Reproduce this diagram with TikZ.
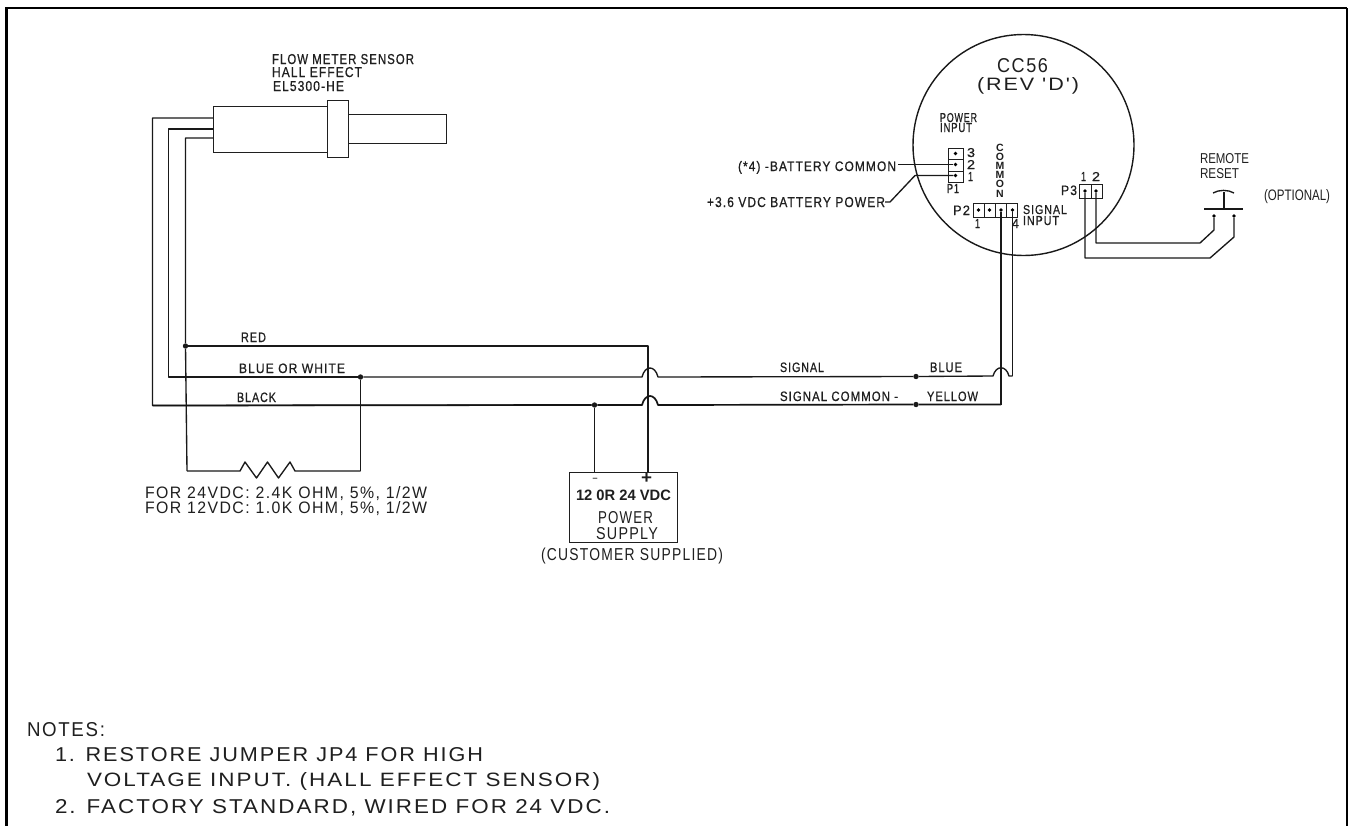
\documentclass[tikz,border=0pt]{standalone}
\usepackage{fontspec}
\usepackage{graphicx}
\setmainfont{Liberation Sans}
\newfontfamily\cadfont[LetterSpace=9]{Liberation Sans}
\newfontfamily\cadbfont[LetterSpace=9,FakeBold=0.7]{Liberation Sans}
\newcommand{\cad}[3]{\resizebox{#1pt}{#2pt}{\cadfont #3}}
\newcommand{\cadb}[3]{\resizebox{#1pt}{#2pt}{\cadbfont #3}}
\newcommand{\hel}[3]{\resizebox{#1pt}{#2pt}{#3}}
\tikzset{
  wire/.style={line width=1.35pt,draw=black!90,line join=round},
  heavy/.style={line width=1.7pt,draw=black!92,line join=round},
  outline/.style={line width=1.3pt,draw=black!88},
  txt/.style={anchor=base west,inner sep=0pt,outer sep=0pt,text=black!88},
  jdot/.style={circle,fill=black!90,inner sep=0pt,minimum size=5.4pt},
  pin/.style={circle,fill=black,inner sep=0pt,minimum size=3.8pt}
}
\begin{document}
\begin{tikzpicture}[x=1pt,y=-1pt]
\useasboundingbox (0,0) rectangle (1348,825);
\clip (0,0) rectangle (1348,825);
\fill[white] (0,0) rectangle (1348,825);
% frame
\draw[black,line width=2.6pt] (6.2,830) -- (6.2,8) -- (1346.5,8);
\draw[black,line width=1.4pt] (1347,8) -- (1347,830);

% flow meter sensor
\node[outline,draw,inner sep=0,minimum width=114pt,minimum height=46pt,anchor=north west] (body) at (213,106) {};
\node[outline,draw,inner sep=0,minimum width=98pt,minimum height=29pt,anchor=north west] (shaft) at (348,114) {};
\node[outline,draw,fill=white,inner sep=0,minimum width=21pt,minimum height=57pt,anchor=north west] (collar) at (327,100) {};
\node[txt] (t1) at (272,64) {\cadb{142}{10}{FLOW METER SENSOR}};
\node[txt] (t2) at (272,77) {\cadb{90}{10}{HALL EFFECT}};
\node[txt] (t3) at (273,91) {\cadb{71}{10}{EL5300-HE}};

% junction and corner coordinates
\coordinate (so) at (213,118);
\coordinate (sm) at (213,129);
\coordinate (si) at (213,138);
\coordinate (co) at (152.5,118);
\coordinate (cm) at (168.5,129);
\coordinate (ci) at (185.5,138);
\coordinate (bo) at (152.5,405.5);
\coordinate (bm) at (168.5,377);
\coordinate (rl) at (187,471);
\coordinate (rr) at (360.5,471);
\node[jdot] (jred) at (185.5,346) {};
\node[jdot] (jblue) at (360.5,377) {};
\node[jdot] (jneg) at (594.5,405) {};
\node[jdot] (jsig) at (916,376.5) {};
\node[jdot] (jcom) at (916,404.5) {};
\coordinate (redc) at (648,346);

% supply box
\node[outline,draw,inner sep=0,minimum width=108pt,minimum height=70pt,anchor=north west] (psu) at (569,472) {};
\coordinate (psuneg) at (594.5,472);
\coordinate (psupos) at (648,472);
\node[txt] (minus) at (592,480) {\bfseries\hel{6}{2.2}{-}};
\node[txt] (plus) at (641,483) {\bfseries\hel{11}{10}{+}};
\node[txt] (p12) at (576,500) {\bfseries\hel{95}{10.5}{12 0R 24 VDC}};
\node[txt] (p13) at (598,523) {\cad{55}{12}{POWER}};
\node[txt] (p14) at (596,539) {\cad{62}{12}{SUPPLY}};
\node[txt] (p15) at (541,560) {\cad{182}{12.5}{(CUSTOMER SUPPLIED)}};

% wires from sensor
\draw[wire] (so) -- (co) -- (bo) -- (jneg);
\draw[wire] (sm) -- (cm) -- (bm) -- (jblue);
\draw[wire] (si) -- (ci) -- (jred) -- (rl);
\draw[heavy] (bo) -- (jneg);
\draw[wire] (jred) -- (redc) -- (psupos);
\draw[wire] (jblue) -- (rr);
\draw[wire] (jneg) -- (psuneg);

% resistor
\draw[wire] (rl) -- (240,471) -- (245,462) -- (256.5,478) -- (267.5,462) -- (278.5,478) -- (290,462) -- (295,471) -- (rr);

% signal lines with hops
\coordinate (hb1) at (642,377);
\coordinate (hb2) at (658,377);
\coordinate (hc1) at (642,405);
\coordinate (hc2) at (658,405);
\coordinate (hs1) at (993,376);
\coordinate (hs2) at (1009,376);
\coordinate (sigend) at (1012.5,376);
\coordinate (comend) at (1001,404.5);
\draw[wire] (jblue) -- (hb1) .. controls (645,365) and (655,365) .. (hb2) -- (jsig) -- (hs1) .. controls (996,365) and (1006,365) .. (hs2) -- (sigend);
\draw[heavy] (jneg) -- (hc1) .. controls (645,393) and (655,393) .. (hc2) -- (jcom) -- (comend);

% labels on the lines
\node[txt] (l1) at (241,342) {\cadb{25}{9.5}{RED}};
\node[txt] (l2) at (239,373) {\cadb{106}{9.5}{BLUE OR WHITE}};
\node[txt] (l3) at (237,402) {\cadb{39}{9.5}{BLACK}};
\node[txt] (l4) at (145,498) {\cad{282}{12}{FOR 24VDC: 2.4K OHM, 5\%, 1/2W}};
\node[txt] (l5) at (145,513) {\cad{282}{12}{FOR 12VDC: 1.0K OHM, 5\%, 1/2W}};
\node[txt] (l6) at (780,372) {\cadb{44}{9.5}{SIGNAL}};
\node[txt] (l7) at (780,401) {\cadb{118}{9.5}{SIGNAL COMMON -}};
\node[txt] (l8) at (930,372) {\cadb{32}{9.5}{BLUE}};
\node[txt] (l9) at (927,401) {\cadb{51}{9.5}{YELLOW}};

% CC56 circle
\node[draw=black!90,line width=1.4pt,circle,inner sep=0,minimum size=221pt] (cc) at (1023.5,145) {};
\node[txt] (c1) at (997,72) {\cad{51}{14}{CC56}};
\node[txt] (c2) at (977,90) {\cad{102}{13}{(REV 'D')}};
\node[txt] (c3) at (940,122) {\cadb{37}{9}{POWER}};
\node[txt] (c4) at (940,132) {\cadb{32}{9}{INPUT}};

% P1
\node[outline,draw,inner sep=0,minimum width=15pt,minimum height=11pt,anchor=north west] (p1c) at (948,148) {};
\node[outline,draw,inner sep=0,minimum width=15pt,minimum height=11.5pt,anchor=north west] (p1b) at (948,159) {};
\node[outline,draw,inner sep=0,minimum width=15pt,minimum height=11pt,anchor=north west] (p1a) at (948,170.5) {};
\node[pin] (p1p3) at (955.5,153.5) {};
\node[pin] (p1p2) at (955.5,164.5) {};
\node[pin] (p1p1) at (955.5,175.5) {};
\node[txt] (n3) at (967,157) {\cadb{8}{9}{3}};
\node[txt] (n2) at (967,169) {\cadb{8}{9}{2}};
\node[txt] (n1) at (968,181) {\cadb{5}{9}{1}};
\node[txt] (pl1) at (947,193) {\cadb{12}{9}{P1}};
\node[txt] (b1) at (738,171) {\cadb{158}{10}{(*4) -BATTERY COMMON}};
\node[txt] (b2) at (707,207) {\cadb{178}{10}{+3.6 VDC BATTERY POWER}};
\coordinate (bc) at (898,164.5);
\coordinate (bp) at (885,202);
\draw[wire] (bc) -- (p1p2);
\draw[wire] (bp) -- (890,202) -- (915,175.5) -- (p1p1);

% P2
\node[outline,draw,inner sep=0,minimum width=11pt,minimum height=14pt,anchor=north west] (p2a) at (973,203) {};
\node[outline,draw,inner sep=0,minimum width=11pt,minimum height=14pt,anchor=north west] (p2b) at (984,203) {};
\node[outline,draw,inner sep=0,minimum width=11pt,minimum height=14pt,anchor=north west] (p2c) at (995,203) {};
\node[outline,draw,inner sep=0,minimum width=11pt,minimum height=14pt,anchor=north west] (p2d) at (1006,203) {};
\node[pin] (p2p1) at (978.5,210) {};
\node[pin] (p2p2) at (989.5,210) {};
\node[pin] (p2p3) at (1001,210) {};
\node[pin] (p2p4) at (1012.5,210) {};
\node[txt] (pl2) at (953,215) {\cadb{17}{9.5}{P2}};
\node[txt] (p2n1) at (975,228) {\cadb{5}{9}{1}};
\node[txt] (p2n4) at (1012,228) {\cadb{7}{9}{4}};
\node[txt] (s1) at (1023,214) {\cadb{44}{9}{SIGNAL}};
\node[txt] (s2) at (1023,225) {\cadb{36}{9}{INPUT}};
\node[anchor=north,align=center,inner sep=0,text=black!88,font=\fontsize{10.5}{9.1}\selectfont\bfseries] (comm) at (1000,144) {C\\O\\M\\M\\O\\N};
\draw[wire] (p2p3) -- (comend);
\draw[wire] (p2p4) -- (sigend);

% P3
\node[outline,draw,inner sep=0,minimum width=12pt,minimum height=14pt,anchor=north west] (p3a) at (1079,184) {};
\node[outline,draw,inner sep=0,minimum width=11pt,minimum height=14pt,anchor=north west] (p3b) at (1091,184) {};
\node[pin] (p3p1) at (1085,191) {};
\node[pin] (p3p2) at (1096,191) {};
\node[txt] (pl3) at (1061,195) {\cadb{16}{9.5}{P3}};
\node[txt] (p3n1) at (1081,181) {\cadb{5}{9}{1}};
\node[txt] (p3n2) at (1092,181) {\cadb{8}{9}{2}};

% reset switch
\node[pin] (sw1) at (1214,216) {};
\node[pin] (sw2) at (1234,216) {};
\coordinate (barl) at (1204,209);
\coordinate (barr) at (1243,209);
\coordinate (stemb) at (1224,209);
\coordinate (stemt) at (1224,192);
\coordinate (capl) at (1213,193);
\coordinate (capr) at (1234,193);
\draw[wire] (barl) -- (barr);
\draw[wire] (stemb) -- (stemt);
\draw[wire] (capl) .. controls (1219,189.5) and (1228,189.5) .. (capr);
\draw[wire] (p3p2) -- (1096,243) -- (1200,243) -- (1214,230) -- (sw1);
\draw[wire] (p3p1) -- (1085,258) -- (1210,258) -- (1234,237) -- (sw2);
\node[txt] (r1) at (1200,163) {\hel{49}{10}{REMOTE}};
\node[txt] (r2) at (1200,178) {\hel{39}{10}{RESET}};
\node[txt] (r3) at (1264,200) {\hel{66}{11}{(OPTIONAL)}};

% notes
\node[txt] (n0) at (27,736) {\cad{78}{14}{NOTES:}};
\node[txt] (n11) at (55,761) {\cad{428}{14}{1. RESTORE JUMPER JP4 FOR HIGH}};
\node[txt] (n12) at (87,786) {\cad{513}{14}{VOLTAGE INPUT. (HALL EFFECT SENSOR)}};
\node[txt] (n13) at (55,813) {\cad{555}{14}{2. FACTORY STANDARD, WIRED FOR 24 VDC.}};
\end{tikzpicture}
\end{document}
